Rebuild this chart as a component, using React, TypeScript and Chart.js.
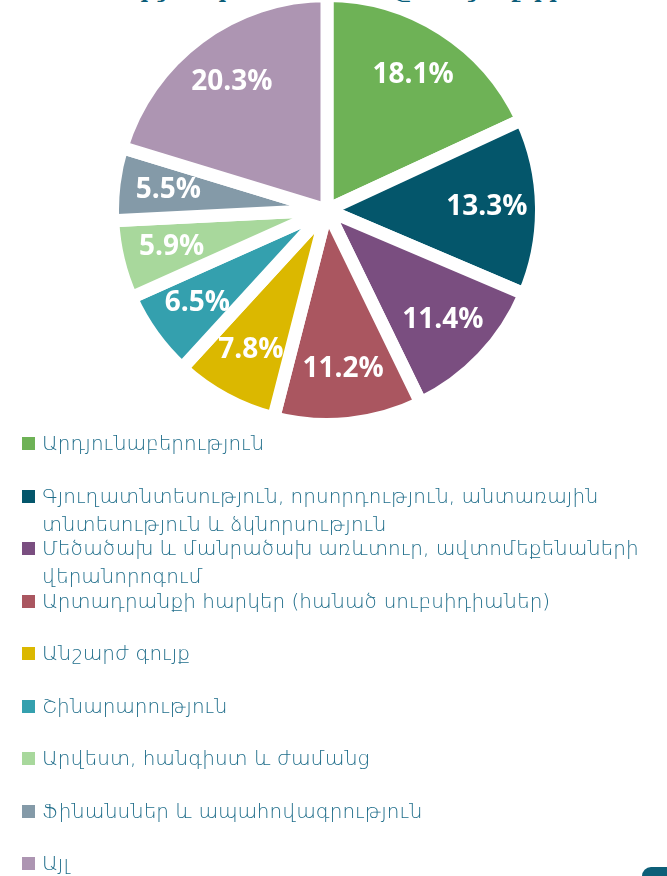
import React, { useEffect, useRef } from "react";
import { Chart, registerables } from "chart.js";

Chart.register(...registerables);

const categories: string[] = [
  "Արդյունաբերություն",
  "Գյուղատնտեսություն, որսորդություն, անտառային\nտնտեսություն և ձկնորսություն",
  "Մեծածախ և մանրածախ առևտուր, ավտոմեքենաների\nվերանորոգում",
  "Արտադրանքի հարկեր (հանած սուբսիդիաներ)",
  "Անշարժ գույք",
  "Շինարարություն",
  "Արվեստ, հանգիստ և ժամանց",
  "Ֆինանսներ և ապահովագրություն",
  "Այլ",
];
const shares: number[] = [18.1, 13.3, 11.4, 11.2, 7.8, 6.5, 5.9, 5.5, 20.3];
const sliceColors: string[] = [
  "#6eb256",
  "#04566b",
  "#7a4e80",
  "#aa5660",
  "#dbb800",
  "#34a0ae",
  "#a8d89c",
  "#849aa8",
  "#ad95b2",
];
const titleText = "Տնտեսության կառուցվածքը ըստ ճյուղերի";

const TEXT_COLOR = "#1f6d8a";

const labelPlugin = {
  id: "sliceLabels",
  afterDatasetsDraw(chart: any) {
    const ctx = chart.ctx;
    const meta = chart.getDatasetMeta(0);
    const data = chart.data.datasets[0].data as number[];
    ctx.save();
    ctx.fillStyle = "#ffffff";
    ctx.font = 'bold 28px "Open Sans"';
    ctx.textAlign = "center";
    ctx.textBaseline = "middle";
    meta.data.forEach((arc: any, i: number) => {
      const p = arc.getProps(["x", "y", "startAngle", "endAngle", "outerRadius"], true);
      const mid = (p.startAngle + p.endAngle) / 2;
      const r = p.outerRadius * 0.745;
      ctx.fillText(data[i].toFixed(1) + "%", p.x + Math.cos(mid) * r, p.y + Math.sin(mid) * r);
    });
    ctx.restore();
  },
};

function PieChart() {
  const ref = useRef<HTMLCanvasElement | null>(null);
  useEffect(() => {
    if (!ref.current) return;
    const chart = new Chart(ref.current, {
      type: "pie",
      data: {
        labels: categories,
        datasets: [
          {
            data: shares,
            backgroundColor: sliceColors,
            borderColor: "#ffffff",
            borderWidth: 13,
            hoverBorderWidth: 13,
            hoverOffset: 0,
          },
        ],
      },
      options: {
        animation: false,
        responsive: true,
        maintainAspectRatio: false,
        radius: 214.5,
        layout: { padding: 0 },
        events: [],
        plugins: {
          legend: { display: false },
          tooltip: { enabled: false },
          title: { display: false },
        },
      } as any,
      plugins: [labelPlugin],
    });
    return () => chart.destroy();
  }, []);
  return <canvas ref={ref} />;
}

export default function App() {
  const rowPitch = 52.5;
  const firstRowTop = 429;
  return (
    <div
      style={{
        position: "fixed",
        left: 0,
        top: 0,
        width: 667,
        height: 876,
        overflow: "hidden",
        background: "#ffffff",
      }}
    >
      <div
        style={{
          position: "absolute",
          left: 30,
          top: -23,
          fontFamily: '"DejaVu Serif", serif',
          fontWeight: "bold",
          fontSize: 21,
          lineHeight: "28px",
          color: "#0b5c78",
          whiteSpace: "nowrap",
        }}
      >
        {titleText}
      </div>
      <div style={{ position: "absolute", left: 107, top: -10, width: 440, height: 440 }}>
        <PieChart />
      </div>
      {categories.map((c, i) => (
        <div
          key={i}
          style={{
            position: "absolute",
            left: 0,
            top: firstRowTop + i * rowPitch,
            width: 667,
            height: rowPitch,
          }}
        >
          <div
            style={{
              position: "absolute",
              left: 22,
              top: 8,
              width: 13,
              height: 13,
              background: sliceColors[i],
            }}
          />
          <div
            style={{
              position: "absolute",
              left: 42,
              top: 0,
              fontFamily: '"DejaVu Sans", sans-serif',
              fontWeight: 200,
              fontSize: 20,
              lineHeight: "28px",
              color: TEXT_COLOR,
              whiteSpace: "pre",
            }}
          >
            {c}
          </div>
        </div>
      ))}
      <div
        style={{
          position: "absolute",
          left: 642,
          top: 867,
          width: 40,
          height: 40,
          borderRadius: 9,
          background: "#0d5f78",
        }}
      />
    </div>
  );
}
